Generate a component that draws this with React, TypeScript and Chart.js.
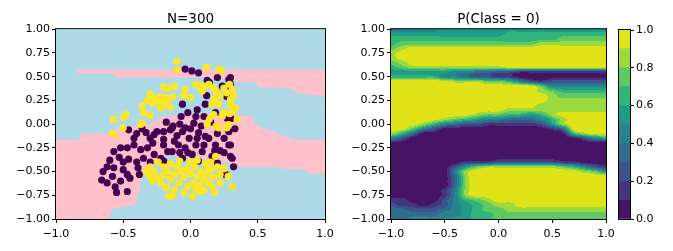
import React, { useEffect, useRef } from "react";
import { Chart, registerables } from "chart.js";

Chart.register(...registerables);

const FONT_FAMILY = "'DejaVu Sans', 'Liberation Sans', sans-serif";
const TEXT_COLOR = "#000000";

// ---------- titles & ticks ----------
const leftTitle = "N=300";
const rightTitle = "P(Class = 0)";
const xTickValues = [-1, -0.5, 0, 0.5, 1];
const xTickLabels = ["\u22121.0", "\u22120.5", "0.0", "0.5", "1.0"];
const yTickValues = [-1, -0.75, -0.5, -0.25, 0, 0.25, 0.5, 0.75, 1];
const yTickLabels = ["\u22121.00", "\u22120.75", "\u22120.50", "\u22120.25", "0.00", "0.25", "0.50", "0.75", "1.00"];
const cbTickValues = [0, 0.2, 0.4, 0.6, 0.8, 1.0];
const cbTickLabels = ["0.0", "0.2", "0.4", "0.6", "0.8", "1.0"];

// ---------- colours ----------
const class0Color = "#440154";
const class1Color = "#fde725";
const regionBlue = "#add8e6";
const regionPink = "#ffc0cb";
const cbLevels = [0, 0.1, 0.2, 0.3, 0.4, 0.5, 0.6, 0.7, 0.8, 0.9, 1.0];
const viridisBands = ["#471365", "#463480", "#3b528b", "#2f6c8e", "#25848e", "#1e9c89", "#2fb47c", "#5ec962", "#9bd93c", "#dfe318"];

// ---------- decision regions (left panel) ----------
const regionAll = [[-1, -1], [1, -1], [1, 1], [-1, 1]];
const regionPinkTop = [
  [-0.84, 0.575], [1, 0.575], [1, 0.29], [0.79, 0.33], [0.78, 0.345], [0.72, 0.38], [0.51, 0.39],
  [0.49, 0.435], [0.36, 0.44], [0.32, 0.465], [0.1, 0.49], [-0.55, 0.49], [-0.58, 0.53], [-0.84, 0.53],
];
const regionPinkMid = [
  [-1, -0.165], [-0.83, -0.165], [-0.82, -0.1], [-0.6, -0.1], [-0.55, -0.04], [-0.4, -0.02], [-0.3, 0.0],
  [-0.2, 0.08], [0.0, 0.1], [0.2, 0.12], [0.3, 0.1], [0.46, 0.08], [0.48, 0.0], [0.52, -0.03], [0.6, -0.07],
  [0.72, -0.14], [0.78, -0.165], [1, -0.165],
  [1, -0.53], [0.9, -0.52], [0.85, -0.48], [0.7, -0.47], [0.6, -0.45], [0.35, -0.45], [0.3, -0.42],
  [0.17, -0.37], [0.0, -0.36], [-0.15, -0.33], [-0.25, -0.37], [-0.31, -0.45], [-0.35, -0.53], [-0.37, -0.6],
  [-0.38, -0.7], [-0.4, -0.8], [-0.42, -0.85], [-0.5, -0.87], [-0.57, -0.89], [-0.6, -0.93], [-0.61, -1], [-1, -1],
];

// ---------- scatter points ----------
const class1Points = [
  [-0.10, 0.66], [-0.10, 0.57], [0.12, 0.60], [0.21, 0.58], [0.23, 0.56],
  [-0.20, 0.39], [-0.30, 0.32], [-0.25, 0.24], [-0.20, 0.22], [-0.15, 0.18], [-0.22, 0.17], [-0.36, 0.19],
  [-0.35, 0.12], [-0.30, 0.09], [-0.48, 0.10], [-0.575, 0.05], [-0.50, 0.07], [-0.36, 0.01], [-0.19, 0.28],
  [-0.19, 0.21], [-0.17, 0.38], [-0.12, 0.40], [-0.04, 0.365], [0.0, 0.28], [0.062, 0.40], [0.087, 0.35],
  [0.136, 0.42], [0.186, 0.35], [0.248, 0.38], [0.31, 0.365], [0.16, 0.21], [0.21, 0.21], [0.297, 0.26],
  [0.335, 0.17], [0.236, 0.08], [0.173, 0.10], [0.285, -0.005], [0.347, 0.05], [0.124, -0.005],
  [-0.13, 0.29], [-0.16, 0.27], [-0.27, 0.27], [-0.23, 0.29], [-0.28, 0.22], [-0.32, 0.25], [-0.05, 0.30],
  [0.04, 0.42], [0.10, 0.40], [0.17, 0.38], [0.29, 0.42], [0.27, 0.33], [0.32, 0.30], [0.30, 0.20],
  [0.29, 0.11], [0.32, 0.14], [0.18, 0.27], [0.22, 0.30], [0.14, 0.05], [0.19, -0.02], [0.27, -0.04],
  [0.21, -0.04], [0.25, 0.12], [-0.57, -0.11], [-0.50, -0.04], [-0.37, -0.005], [-0.58, -0.10],
  [0.31, -0.66], [-0.136, -0.76], [0.013, -0.76], [0.062, -0.71], [0.16, -0.66], [0.11, -0.41],
  [0.186, -0.34], [0.136, -0.46], [-0.16, -0.76],
  [-0.30, -0.45], [-0.27, -0.50], [-0.25, -0.56], [-0.28, -0.60], [-0.22, -0.62], [-0.30, -0.55],
  [-0.17, -0.50], [-0.20, -0.45], [-0.15, -0.42], [-0.10, -0.45], [-0.12, -0.53], [-0.07, -0.50],
  [-0.03, -0.47], [-0.05, -0.56], [0.00, -0.52], [0.03, -0.45], [0.05, -0.55], [0.08, -0.50],
  [0.10, -0.58], [0.12, -0.52], [0.15, -0.48], [0.17, -0.56], [0.20, -0.45], [0.22, -0.53],
  [0.25, -0.47], [0.02, -0.62], [-0.02, -0.66], [0.07, -0.64], [-0.09, -0.62], [-0.15, -0.58],
  [-0.18, -0.67], [-0.12, -0.69], [0.10, -0.70], [0.22, -0.62], [0.28, -0.55], [0.00, -0.40],
  [0.05, -0.38], [-0.08, -0.39], [-0.24, -0.40], [-0.33, -0.50], [0.13, -0.62], [-0.05, -0.72],
  [0.18, -0.72], [0.04, -0.68], [-0.20, -0.54], [0.15, -0.40],
];
const class0Points = [
  [-0.04, 0.58], [0.01, 0.56], [0.06, 0.54], [0.124, 0.46], [0.20, 0.49], [0.285, 0.47], [0.30, 0.38],
  [0.236, 0.40], [0.27, 0.29], [0.11, 0.21], [-0.06, 0.21], [-0.07, 0.08], [0.025, 0.01], [0.10, 0.08],
  [0.186, 0.12], [0.297, 0.49], [0.297, 0.42], [0.27, 0.065], [0.14, 0.44], [0.29, 0.45],
  [-0.18, 0.02], [-0.13, -0.02], [-0.08, 0.0], [-0.04, -0.04], [-0.15, -0.06],
  [-0.46, -0.06], [-0.33, -0.09], [-0.25, -0.08], [-0.30, -0.15], [-0.20, -0.16], [-0.42, -0.15],
  [-0.52, -0.25], [-0.57, -0.29], [-0.47, -0.25], [-0.42, -0.22], [-0.37, -0.27], [-0.32, -0.25],
  [-0.27, -0.32], [-0.35, -0.36], [-0.46, -0.37], [-0.62, -0.45], [-0.57, -0.46], [-0.58, -0.55],
  [-0.50, -0.48], [-0.47, -0.53], [-0.45, -0.57], [-0.38, -0.53], [-0.66, -0.59], [-0.56, -0.66],
  [-0.47, -0.71], [-0.22, -0.36], [-0.20, -0.39], [-0.27, -0.11], [-0.17, -0.29],
  [-0.136, -0.04], [-0.06, -0.08], [-0.01, -0.15], [0.06, -0.09], [0.136, -0.15], [0.186, -0.22],
  [0.285, -0.22], [0.31, -0.36], [0.32, -0.45], [0.26, -0.53], [0.285, -0.08], [-0.04, -0.25],
  [0.04, -0.22], [-0.09, -0.22], [0.013, -0.32], [0.087, -0.29], [0.16, -0.34], [-0.136, -0.29],
  [-0.06, -0.36], [0.06, -0.39], [0.20, -0.41], [0.11, -0.13], [0.297, -0.22], [0.297, -0.34],
  [-0.10, -0.12], [-0.20, -0.22], [-0.12, -0.18], [0.00, -0.05], [0.08, -0.02], [0.15, 0.02],
  [0.20, -0.10], [0.25, -0.15], [0.22, -0.28], [0.10, -0.22], [-0.02, -0.30], [-0.28, -0.20],
  [-0.36, -0.05], [-0.40, -0.10], [-0.53, -0.35], [-0.60, -0.38], [-0.40, -0.40], [-0.65, -0.50],
  [-0.52, -0.60], [-0.55, -0.72], [-0.62, -0.62], [-0.39, -0.46], [-0.50, -0.40], [0.05, 0.15],
  [-0.02, 0.12], [0.12, 0.30], [0.04, 0.08], [0.30, 0.06], [0.33, -0.05], [0.25, -0.30],
  [0.18, -0.28], [0.05, -0.15], [-0.08, -0.30], [-0.30, -0.40], [-0.20, -0.08],
];

// ---------- probability field (right panel) ----------
// sample positions of the field grid
const fieldXs = [-1, -0.9, -0.8, -0.7, -0.6, -0.5, -0.4, -0.3, -0.2, -0.1, 0, 0.1, 0.2, 0.3, 0.4, 0.5, 0.6, 0.7, 0.8, 0.9, 1];
const fieldYs = [
  1, 0.95, 0.9, 0.85, 0.8, 0.75, 0.7, 0.65, 0.6, 0.55, 0.5, 0.45, 0.4, 0.35, 0.3, 0.25, 0.2, 0.15, 0.1, 0.05, 0,
  -0.05, -0.1, -0.15, -0.2, -0.25, -0.3, -0.35, -0.4, -0.45, -0.5, -0.55, -0.6, -0.65, -0.7, -0.75, -0.8, -0.85, -0.9, -0.95, -1,
];
// each digit d = probability band [d/10, (d+1)/10)
const fieldRows = [
  "444445555555555555555",
  "555555555556666666666",
  "666666666666666677777",
  "677777777777778888888",
  "789999999999999999999",
  "899999999999999999999",
  "899999999999999999999",
  "789999999999999999999",
  "678888888889999999999",
  "555555443322111111111",
  "666664432211000000000",
  "999999888776421222222",
  "999999999999997444444",
  "999999999999998766666",
  "999999999999999877777",
  "999999999999999888888",
  "999999999999998888888",
  "999999999998888888888",
  "999999998776656899999",
  "999998765443334689999",
  "999864322111112589999",
  "997420000000000139999",
  "863000000000000006899",
  "420000000000000000245",
  "000000000000000000000",
  "000000000000000000000",
  "000000000000000000000",
  "000000000000000000000",
  "000000011122222211000",
  "000000257888888876421",
  "000000489999999999875",
  "000000389999999999999",
  "000000389999999999999",
  "000000389999999999999",
  "000001489999999999999",
  "000001489999999999999",
  "110002467899999999999",
  "211012456788999999999",
  "332223456778888888888",
  "333334456677777777777",
  "334444556677777777777",
];

// ---------- helpers ----------
const fieldGrid = fieldRows.map((r) => r.split("").map((ch) => (Number(ch) + 0.5) / 10));

function cr(p0: number, p1: number, p2: number, p3: number, t: number) {
  return 0.5 * (2 * p1 + (-p0 + p2) * t + (2 * p0 - 5 * p1 + 4 * p2 - p3) * t * t + (-p0 + 3 * p1 - 3 * p2 + p3) * t * t * t);
}
function gridAt(r: number, c: number) {
  const rr = Math.max(0, Math.min(fieldYs.length - 1, r));
  const cc = Math.max(0, Math.min(fieldXs.length - 1, c));
  return fieldGrid[rr][cc];
}
function sampleField(x: number, y: number) {
  const gx = (x - fieldXs[0]) / (fieldXs[1] - fieldXs[0]);
  const gy = (y - fieldYs[0]) / (fieldYs[1] - fieldYs[0]);
  const i = Math.max(0, Math.min(fieldXs.length - 2, Math.floor(gx)));
  const j = Math.max(0, Math.min(fieldYs.length - 2, Math.floor(gy)));
  const tx = Math.max(0, Math.min(1, gx - i));
  const ty = Math.max(0, Math.min(1, gy - j));
  const row = (r: number) => cr(gridAt(r, i - 1), gridAt(r, i), gridAt(r, i + 1), gridAt(r, i + 2), tx);
  return cr(row(j - 1), row(j), row(j + 1), row(j + 2), ty);
}
function hexToRgb(h: string) {
  return [parseInt(h.slice(1, 3), 16), parseInt(h.slice(3, 5), 16), parseInt(h.slice(5, 7), 16)];
}

const contourPlugin = {
  id: "contourField",
  beforeDatasetsDraw(chart: any) {
    const a = chart.chartArea;
    const xs = chart.scales.x;
    const ys = chart.scales.y;
    const L = Math.round(a.left);
    const T = Math.round(a.top);
    const W = Math.round(a.right) - L;
    const H = Math.round(a.bottom) - T;
    const off = document.createElement("canvas");
    off.width = W;
    off.height = H;
    const octx = off.getContext("2d")!;
    const img = octx.createImageData(W, H);
    const rgb = viridisBands.map(hexToRgb);
    for (let j = 0; j < H; j++) {
      const yv = ys.getValueForPixel(T + j + 0.5);
      for (let i = 0; i < W; i++) {
        const xv = xs.getValueForPixel(L + i + 0.5);
        const p = sampleField(xv, yv);
        let b = 0;
        for (let k = 1; k < cbLevels.length - 1; k++) if (p >= cbLevels[k]) b = k;
        const c = rgb[b];
        const o = (j * W + i) * 4;
        img.data[o] = c[0];
        img.data[o + 1] = c[1];
        img.data[o + 2] = c[2];
        img.data[o + 3] = 255;
      }
    }
    octx.putImageData(img, 0, 0);
    chart.ctx.drawImage(off, L, T);
  },
};

const framePlugin = {
  id: "axesFrame",
  afterDraw(chart: any) {
    const { ctx, chartArea: a } = chart;
    ctx.save();
    ctx.strokeStyle = "#000";
    ctx.lineWidth = 1;
    ctx.strokeRect(a.left - 0.5, a.top - 0.5, a.right - a.left + 1, a.bottom - a.top + 1);
    ctx.restore();
  },
};

function axis(vals: number[], labels: string[], pad: number, extra: any) {
  return {
    type: "linear",
    min: -1,
    max: 1,
    afterBuildTicks: (s: any) => {
      s.ticks = vals.map((v) => ({ value: v }));
    },
    ticks: {
      callback: (_v: any, i: number) => labels[i],
      font: { family: FONT_FAMILY, size: 11 },
      color: TEXT_COLOR,
      padding: pad,
      autoSkip: false,
      maxRotation: 0,
    },
    grid: { display: true, drawOnChartArea: false, drawTicks: true, tickLength: 4, color: "#000", lineWidth: 1 },
    border: { display: false },
    ...extra,
  };
}

function titleOpts(text: string) {
  return {
    display: true,
    text,
    fullSize: false,
    color: TEXT_COLOR,
    font: { family: FONT_FAMILY, size: 13.5, weight: "normal" },
    padding: { top: 11.5, bottom: 1.5 },
  };
}

const baseOptions = {
  animation: false,
  responsive: false,
  devicePixelRatio: 1,
  events: [],
};

function polygonDataset(pts: number[][], color: string, order: number) {
  return {
    type: "scatter",
    data: pts.map(([x, y]) => ({ x, y })),
    showLine: true,
    fill: "shape",
    backgroundColor: color,
    borderColor: color,
    borderWidth: 0,
    pointRadius: 0,
    tension: 0,
    order,
  };
}

function pointDataset(pts: number[][], color: string, order: number) {
  return {
    type: "scatter",
    data: pts.map(([x, y]) => ({ x, y })),
    backgroundColor: color,
    borderWidth: 0,
    pointRadius: 3.6,
    order,
  };
}

export default function App() {
  const leftRef = useRef<HTMLCanvasElement>(null);
  const rightRef = useRef<HTMLCanvasElement>(null);
  const cbRef = useRef<HTMLCanvasElement>(null);

  useEffect(() => {
    Chart.defaults.font.family = FONT_FAMILY;
    Chart.defaults.color = TEXT_COLOR;

    const left = new Chart(leftRef.current!, {
      type: "scatter",
      data: {
        datasets: [
          pointDataset(class1Points, class1Color, 1),
          pointDataset(class0Points, class0Color, 2),
          polygonDataset(regionPinkTop, regionPink, 3),
          polygonDataset(regionPinkMid, regionPink, 3),
          polygonDataset(regionAll, regionBlue, 5),
        ] as any,
      },
      options: {
        ...baseOptions,
        layout: { padding: { left: 0, right: 15, top: 0, bottom: 0 } },
        plugins: { legend: { display: false }, tooltip: { enabled: false }, title: titleOpts(leftTitle) },
        scales: {
          x: axis(xTickValues, xTickLabels, 5, { afterFit: (s: any) => { s.height = 32; } }),
          y: axis(yTickValues, yTickLabels, 2, { afterFit: (s: any) => { s.width = 56; } }),
        },
      } as any,
      plugins: [framePlugin],
    });

    const right = new Chart(rightRef.current!, {
      type: "scatter",
      data: { datasets: [] },
      options: {
        ...baseOptions,
        layout: { padding: { left: 0, right: 14, top: 0, bottom: 0 } },
        plugins: { legend: { display: false }, tooltip: { enabled: false }, title: titleOpts(rightTitle) },
        scales: {
          x: axis(xTickValues, xTickLabels, 5, { afterFit: (s: any) => { s.height = 32; } }),
          y: axis(yTickValues, yTickLabels, 2, { afterFit: (s: any) => { s.width = 51; } }),
        },
      } as any,
      plugins: [contourPlugin, framePlugin],
    });

    const cb = new Chart(cbRef.current!, {
      type: "bar",
      data: {
        labels: ["P"],
        datasets: viridisBands.map((color, k) => ({
          data: [[cbLevels[k], cbLevels[k + 1]]],
          backgroundColor: color,
          borderWidth: 0,
          grouped: false,
          barPercentage: 1,
          categoryPercentage: 1,
        })) as any,
      },
      options: {
        ...baseOptions,
        layout: { padding: { left: 9, right: 0, top: 30, bottom: 32 } },
        plugins: { legend: { display: false }, tooltip: { enabled: false } },
        scales: {
          x: { display: false },
          y: {
            type: "linear",
            position: "right",
            min: 0,
            max: 1,
            afterBuildTicks: (s: any) => {
              s.ticks = cbTickValues.map((v) => ({ value: v }));
            },
            ticks: {
              callback: (_v: any, i: number) => cbTickLabels[i],
              font: { family: FONT_FAMILY, size: 11 },
              color: TEXT_COLOR,
              padding: 2,
            },
            grid: { display: true, drawOnChartArea: false, drawTicks: true, tickLength: 4, color: "#000", lineWidth: 1 },
            border: { display: false },
            afterFit: (s: any) => { s.width = 43; },
          },
        },
      } as any,
      plugins: [framePlugin],
    });

    return () => {
      left.destroy();
      right.destroy();
      cb.destroy();
    };
  }, []);

  return (
    <div style={{ position: "absolute", left: 0, top: 0, width: 673, height: 251, background: "#fff", overflow: "hidden" }}>
      <canvas ref={leftRef} width={340} height={251} style={{ position: "absolute", left: 0, top: 0 }} />
      <canvas ref={rightRef} width={280} height={251} style={{ position: "absolute", left: 340, top: 0 }} />
      <canvas ref={cbRef} width={63} height={251} style={{ position: "absolute", left: 610, top: 0 }} />
    </div>
  );
}
